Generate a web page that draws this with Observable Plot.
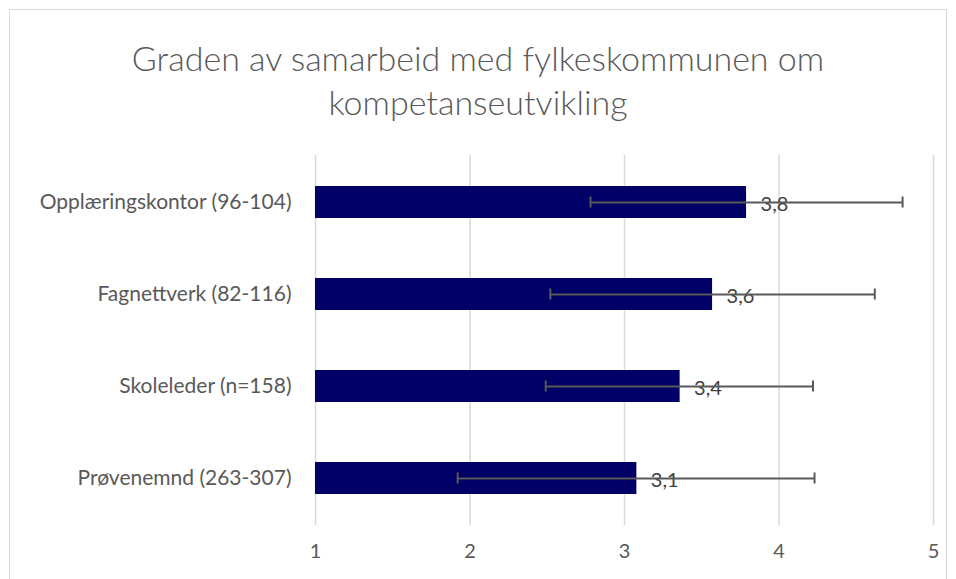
<!DOCTYPE html>
<html>
<head>
<meta charset="utf-8">
<script src="https://cdn.jsdelivr.net/npm/d3@7"></script>
<script src="https://cdn.jsdelivr.net/npm/@observablehq/plot@0.6"></script>
<style>
  html, body { margin: 0; padding: 0; background: #fff; }
  body { width: 956px; height: 579px; overflow: hidden; position: relative; font-family: Lato, "Open Sans", sans-serif; }
  #frame { position: absolute; left: 9px; top: 9px; width: 938px; height: 620px; border: 1px solid #d9d9d9; box-sizing: border-box; }
  #title { position: absolute; left: 0; top: 36px; width: 956px; text-align: center; font-size: 34px; font-weight: 300; line-height: 44px; color: #595959; }
  #chart { position: absolute; left: 0; top: 140px; }
</style>
</head>
<body>
<div id="frame"></div>
<div id="title">Graden av samarbeid med fylkeskommunen om<br>kompetanseutvikling</div>
<div id="chart"></div>
<script>
const categories = ["Opplæringskontor (96-104)", "Fagnettverk (82-116)", "Skoleleder (n=158)", "Prøvenemnd (263-307)"];
const means = [3.79, 3.57, 3.36, 3.08];
const errLow = [2.78, 2.52, 2.49, 1.92];
const errHigh = [4.80, 4.62, 4.22, 4.23];
const xTicks = [1, 2, 3, 4, 5];
const baseline = 1;

const data = categories.map((c, i) => ({cat: c, mean: means[i], lo: errLow[i], hi: errHigh[i]}));
const fmt = v => v.toFixed(1).replace(".", ",");

const plot = Plot.plot({
  width: 956,
  height: 439,
  marginLeft: 315,
  marginRight: 23,
  marginTop: 15,
  marginBottom: 54,
  style: {fontFamily: "Lato, 'Open Sans', sans-serif", background: "transparent"},
  x: {domain: [1, 5], ticks: xTicks, label: null},
  y: {domain: categories, paddingInner: 0.65, paddingOuter: 0.325, label: null},
  marks: [
    Plot.gridX(xTicks, {stroke: "#d9d9d9", strokeOpacity: 1, strokeWidth: 1.5}),
    Plot.axisX({ticks: xTicks, tickFormat: "d", tickSize: 0, tickPadding: 18, fontSize: 20, fill: "#595959", label: null}),
    Plot.axisY({tickSize: 0, tickPadding: 24, fontSize: 21, fill: "#595959", label: null}),
    Plot.barX(data, {y: "cat", x1: baseline, x2: "mean", fill: "#000066"}),
    Plot.text(data, {x: "mean", y: "cat", text: d => fmt(d.mean), dx: 14, dy: 2, textAnchor: "start", fill: "#404040", fontSize: 20}),
    Plot.ruleY(data, {y: "cat", x1: "lo", x2: "hi", stroke: "#595959", strokeWidth: 2}),
    Plot.tickX(data, {x: "lo", y: "cat", stroke: "#595959", strokeWidth: 2, insetTop: 10.5, insetBottom: 10.5}),
    Plot.tickX(data, {x: "hi", y: "cat", stroke: "#595959", strokeWidth: 2, insetTop: 10.5, insetBottom: 10.5})
  ]
});
document.getElementById("chart").appendChild(plot);
</script>
</body>
</html>
